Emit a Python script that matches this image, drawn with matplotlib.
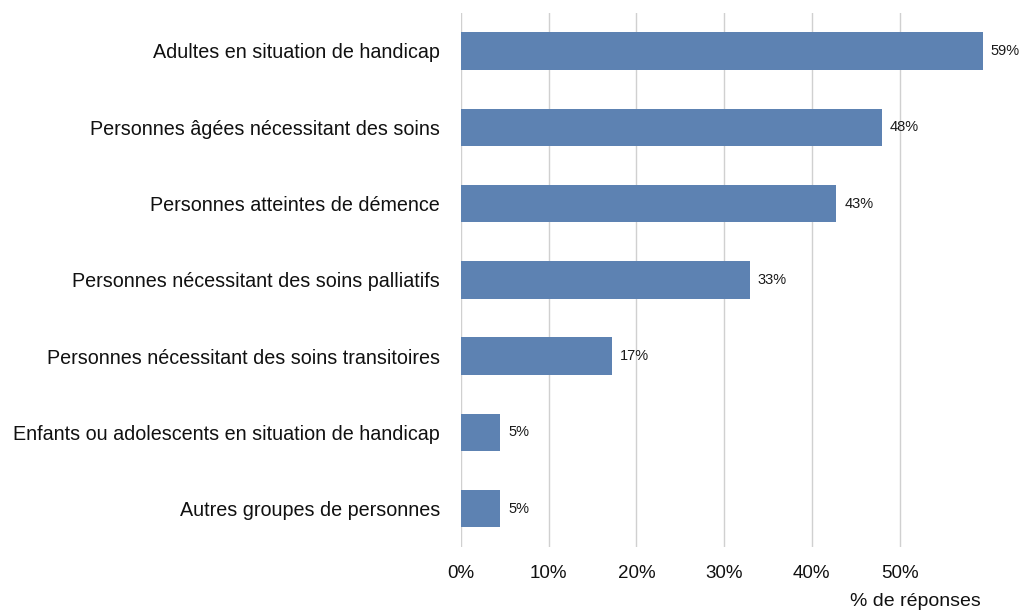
import matplotlib.pyplot as plt
import matplotlib.ticker as ticker

categories = [
    "Adultes en situation de handicap",
    "Personnes âgées nécessitant des soins",
    "Personnes atteintes de démence",
    "Personnes nécessitant des soins palliatifs",
    "Personnes nécessitant des soins transitoires",
    "Enfants ou adolescents en situation de handicap",
    "Autres groupes de personnes",
]
values = [59.5, 48.0, 42.8, 32.9, 17.2, 4.5, 4.5]
valueLabels = ["59%", "48%", "43%", "33%", "17%", "5%", "5%"]
xticks = [0, 10, 20, 30, 40, 50]

plt.rcParams["font.family"] = ["Liberation Sans", "DejaVu Sans"]

fig = plt.figure(figsize=(10.22, 6.11), dpi=100)
ax = fig.add_axes([0.451, 0.105, 0.515, 0.874])

pos = list(range(len(categories)))
ax.barh(pos, values, height=0.49, color="#5d82b2")
for p, v, lab in zip(pos, values, valueLabels):
    ax.text(v + 0.9, p, lab, va="center", ha="left", fontsize=10.5, color="#1a1a1a", clip_on=False)

ax.set_ylim(len(categories) - 0.5, -0.5)
ax.set_xlim(0, 60)
ax.set_yticks(pos)
ax.set_yticklabels(categories, fontsize=14.2, color="#111111")
ax.set_xticks(xticks)
ax.xaxis.set_major_formatter(ticker.FuncFormatter(lambda x, p: "{:d}%".format(int(x))))
ax.tick_params(axis="x", labelsize=13.5, colors="#111111", length=0, pad=13)
ax.tick_params(axis="y", length=0, pad=15)
ax.grid(True, axis="x", color="#d0d0d0", linewidth=1)
ax.set_axisbelow(True)
for s in ax.spines.values():
    s.set_visible(False)

fig.text(0.96, 0.009, "% de réponses", ha="right", va="baseline", fontsize=14, color="#111111")

plt.savefig("out.png", dpi=100)
